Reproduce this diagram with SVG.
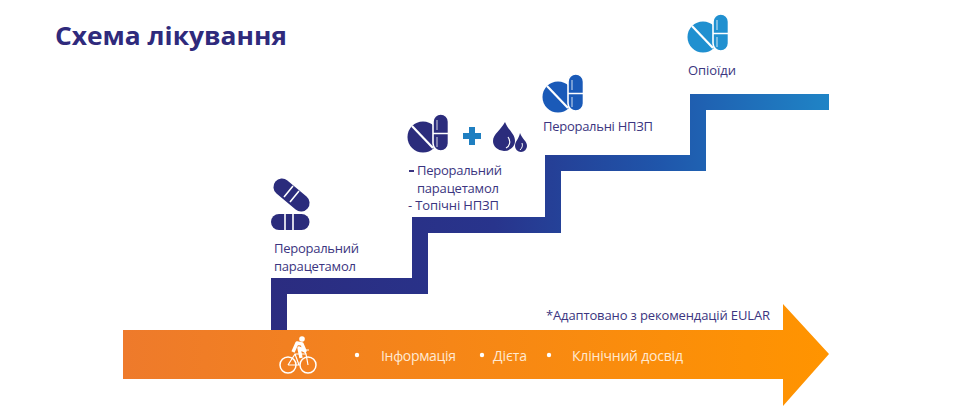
<svg xmlns="http://www.w3.org/2000/svg" width="970" height="416" viewBox="0 0 970 416">
<defs>
<linearGradient id="stair" gradientUnits="userSpaceOnUse" x1="271" y1="0" x2="829" y2="0">
<stop offset="0" stop-color="#2b2c80"/><stop offset="0.4" stop-color="#28348c"/><stop offset="0.7" stop-color="#1f56ab"/><stop offset="1" stop-color="#1f84c6"/>
</linearGradient>
<linearGradient id="arrow" gradientUnits="userSpaceOnUse" x1="123" y1="0" x2="829" y2="0">
<stop offset="0" stop-color="#ee7a2b"/><stop offset="1" stop-color="#ff9400"/>
</linearGradient>
<g id="pillpair">
<circle cx="0" cy="0" r="15.500"/>
<path d="M-11 -11L10 11" stroke="#fff" stroke-width="2.200" fill="none"/>
<rect x="10" y="-23" width="15.500" height="37" rx="7.750" stroke="#fff" stroke-width="1.600"/>
<path d="M10 -3.500H26" stroke="#fff" stroke-width="1.500" fill="none"/>
<path d="M14 -7V-17M14 0V10" stroke="#fff" stroke-width="1" fill="none" opacity="0.8"/>
</g>
<style>
text{font-family:"Open Sans","Noto Sans","Liberation Sans",sans-serif}
.lab{font-size:13px;fill:#3b3580}
.wh{font-size:14px;fill:#ffe9d2}
.navy{fill:#2b2c7c}
.cut{stroke:#fff;stroke-width:1.600;fill:none}
</style>
</defs>
<rect width="970" height="416" fill="#fff"/>
<text id="title" x="55" y="45" font-size="25" font-weight="700" fill="#2f2a7c" textLength="232" lengthAdjust="spacingAndGlyphs">Схема лікування</text>
<g id="connectors">
<path d="M279 330V286H420V225H553V163H698V102H829" fill="none" stroke="url(#stair)" stroke-width="16"/>
</g>
<g id="arrow-bar">
<path d="M123 330H783V304L829 354L783 406V379H123Z" fill="url(#arrow)"/>
<text class="wh" x="381" y="361" textLength="75">Інформація</text>
<text class="wh" x="493" y="361" textLength="34">Дієта</text>
<text class="wh" x="572" y="361" textLength="111">Клінічний досвід</text>
<circle cx="357" cy="355" r="2.200" fill="#fff"/>
<circle cx="482" cy="355" r="2.200" fill="#fff"/>
<circle cx="549" cy="355" r="2.200" fill="#fff"/>
<text class="lab" x="546" y="320" textLength="224">*Адаптовано з рекомендацій EULAR</text>
</g>
<g id="cyclist" fill="none" stroke="#fff">
<circle cx="288" cy="365" r="8" stroke-width="1.500"/>
<circle cx="308" cy="365" r="8" stroke-width="1.500"/>
<path d="M288 365L295 354L306 354L308 365M295 354L299 365H288M306 354L304 350H309" stroke-width="1.200"/>
<circle cx="302" cy="339" r="2.800" fill="#fff" stroke="none"/>
<path d="M293 352L297 343L302 344L305 351L299 348L301 358" stroke-width="3.400" stroke-linejoin="round"/>
</g>
<g id="step1">
<rect x="-21" y="-8.500" width="42" height="17" rx="8.500" transform="translate(291.500 195) rotate(40)" class="navy"/>
<path class="cut" d="M293 186L284 197M299 191L290 202"/>
<path class="cut" d="M279 187L288 198" opacity="0"/>
<rect x="271" y="214" width="38.500" height="16" rx="8" class="navy"/>
<path class="cut" d="M285 214V230M293 214V230"/>
<text class="lab" x="274" y="253" textLength="85">Пероральний</text>
<text class="lab" x="274" y="271" textLength="82">парацетамол</text>
</g>
<g id="step2">
<use href="#pillpair" x="423" y="137" class="navy"/>
<path d="M469 127h6v6h6v6h-6v6h-6v-6h-6v-6h6z" fill="#1f7fc1"/>
<path d="M505 122C508 130 515 134 515 141A11 10 0 0 1 493 141C493 134 501 130 505 122Z" class="navy"/>
<path d="M508 137C511 141 510 146 506 148" stroke="#fff" stroke-width="1.200" fill="none"/>
<path d="M520 133C522 139 527 141 527 146A6 6 0 0 1 515 146C515 141 519 139 520 133Z" class="navy"/>
<path d="M522 143C523 146 522 148 520 150" stroke="#fff" stroke-width="1" fill="none"/>
<text class="lab" x="417" y="175" textLength="85">Пероральний</text>
<text class="lab" x="417" y="193" textLength="82">парацетамол</text>
<text class="lab" x="408" y="210" textLength="91">- Топічні НПЗП</text>
<rect x="409" y="170" width="5" height="2" fill="#3b3580"/>
</g>
<g id="step3">
<use href="#pillpair" x="558" y="97" fill="#1a5ab8"/>
<text class="lab" x="543" y="131" textLength="110">Пероральні НПЗП</text>
</g>
<g id="step4">
<use href="#pillpair" x="703" y="37" fill="#2090d0"/>
<text class="lab" x="688" y="75" textLength="48">Опіоїди</text>
</g>
</svg>
